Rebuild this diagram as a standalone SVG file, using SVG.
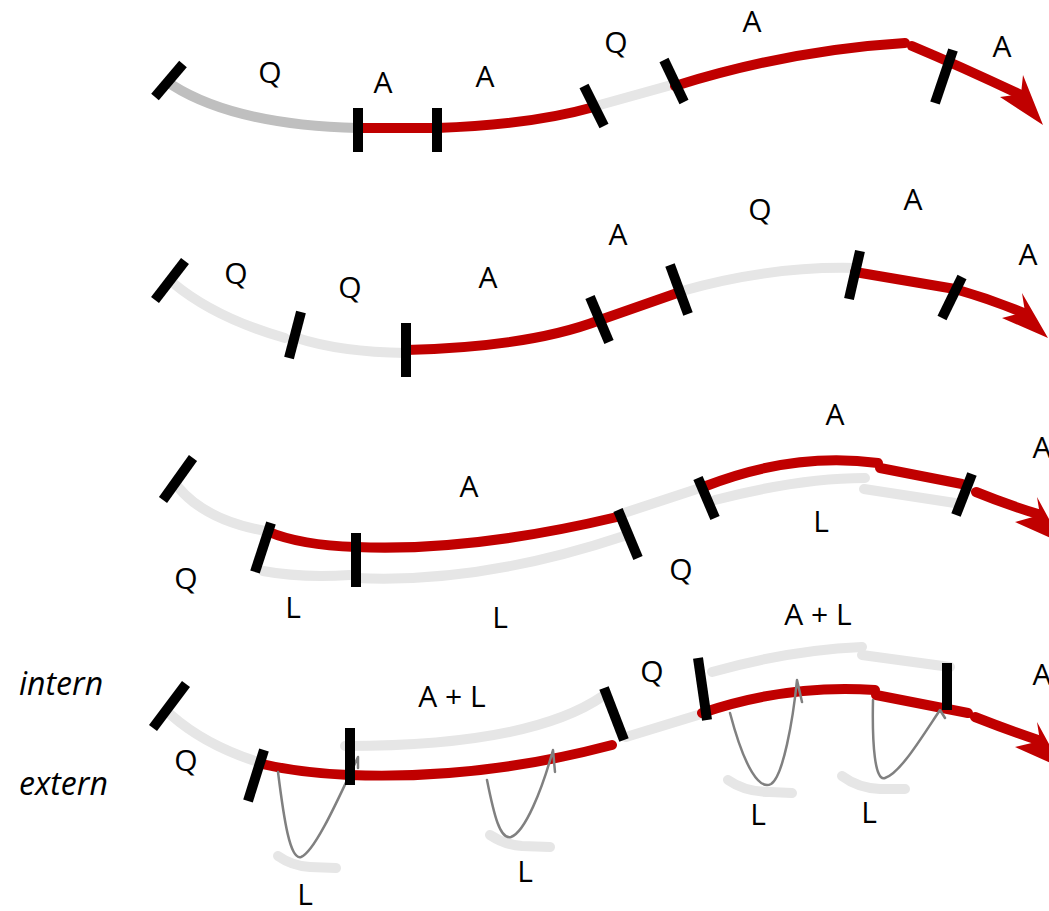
<svg xmlns="http://www.w3.org/2000/svg" width="1049" height="911" viewBox="0 0 1049 911">
<style>
.s{fill:none;stroke-width:10;stroke-linecap:round}
.q{stroke:#bfbfbf}
.lg{stroke:#e6e6e6}
.red{stroke:#c00000}
.tick{fill:none;stroke:#000;stroke-width:10;stroke-linecap:butt}
.loop{fill:none;stroke:#808080;stroke-width:2.5;stroke-linecap:round;stroke-linejoin:round}
.head{fill:#c00000}
.lbl{font-family:"Open Sans","DejaVu Sans",sans-serif;font-size:30px;fill:#000;text-anchor:middle}
.side{font-style:italic;text-anchor:start;font-size:32px}
</style>
<rect width="1049" height="911" fill="#fff"/>

<g id="row1">
  <path class="s q" d="M172,85 Q235,125 358,128"/>
  <path class="s red" d="M358,128 L437,128"/>
  <path class="s red" d="M437,128 Q530,125 594,107"/>
  <path class="s lg" d="M596,106 L675,84"/>
  <path class="s red" d="M675,86 Q790,50 905,43"/>
  <path class="s red" d="M912,46 Q962,67 1021,95"/>
  <polygon class="head" points="1043,125 1023,75 1021,94 1000,97"/>
  <line class="tick" x1="155" y1="97" x2="183" y2="64"/>
  <line class="tick" x1="358" y1="108" x2="358" y2="152"/>
  <line class="tick" x1="437" y1="108" x2="437" y2="152"/>
  <line class="tick" x1="584" y1="86" x2="604" y2="126"/>
  <line class="tick" x1="664" y1="60" x2="684" y2="102"/>
  <line class="tick" x1="935" y1="103" x2="953" y2="50"/>
  <text class="lbl" x="270" y="83">Q</text>
  <text class="lbl" x="383" y="93">A</text>
  <text class="lbl" x="485" y="87">A</text>
  <text class="lbl" x="616" y="53">Q</text>
  <text class="lbl" x="752" y="32">A</text>
  <text class="lbl" x="1002" y="57">A</text>
</g>

<g id="row2">
  <path class="s lg" d="M173,283 Q215,318 285,338"/>
  <path class="s lg" d="M297,338 Q340,352 406,353"/>
  <path class="s red" d="M406,350 Q530,347 600,320 L680,292"/>
  <path class="s lg" d="M682,291 Q770,266 855,268"/>
  <path class="s red" d="M855,272 L955,289"/>
  <path class="s red" d="M955,289 Q990,299 1024,313"/>
  <polygon class="head" points="1048,338 1022,293 1025,312 1002,318"/>
  <line class="tick" x1="155" y1="300" x2="185" y2="261"/>
  <line class="tick" x1="289" y1="358" x2="301" y2="312"/>
  <line class="tick" x1="406" y1="323" x2="406" y2="377"/>
  <line class="tick" x1="590" y1="297" x2="609" y2="342"/>
  <line class="tick" x1="670" y1="265" x2="688" y2="314"/>
  <line class="tick" x1="849" y1="299" x2="860" y2="251"/>
  <line class="tick" x1="942" y1="318" x2="962" y2="277"/>
  <text class="lbl" x="236" y="284">Q</text>
  <text class="lbl" x="350" y="298">Q</text>
  <text class="lbl" x="488" y="288">A</text>
  <text class="lbl" x="618" y="245">A</text>
  <text class="lbl" x="760" y="220">Q</text>
  <text class="lbl" x="913" y="210">A</text>
  <text class="lbl" x="1028" y="265">A</text>
</g>

<g id="row3">
  <path class="s lg" d="M178,487 Q205,520 265,531"/>
  <path class="s lg" d="M263,571 Q300,578 350,575"/>
  <path class="s lg" d="M356,578 Q480,584 624,536"/>
  <path class="s red" d="M269,532 Q300,545 356,547 Q470,552 617,517"/>
  <path class="s lg" d="M624,513 L700,488"/>
  <path class="s lg" d="M715,500 Q800,478 865,478"/>
  <path class="s lg" d="M864,489 L955,503"/>
  <path class="s red" d="M706,486 Q793,452 878,463"/>
  <path class="s red" d="M880,468 L962,484"/>
  <path class="s red" d="M976,492 Q1008,505 1038,514"/>
  <polygon class="head" points="1062,543 1037,497 1040,515 1015,522"/>
  <line class="tick" x1="163" y1="500" x2="193" y2="458"/>
  <line class="tick" x1="255" y1="572" x2="271" y2="523"/>
  <line class="tick" x1="356" y1="533" x2="356" y2="587"/>
  <line class="tick" x1="618" y1="510" x2="638" y2="558"/>
  <line class="tick" x1="698" y1="478" x2="715" y2="518"/>
  <line class="tick" x1="956" y1="515" x2="972" y2="474"/>
  <text class="lbl" x="469" y="497">A</text>
  <text class="lbl" x="186" y="589">Q</text>
  <text class="lbl" x="293" y="618">L</text>
  <text class="lbl" x="500" y="628">L</text>
  <text class="lbl" x="835" y="425">A</text>
  <text class="lbl" x="821" y="532">L</text>
  <text class="lbl" x="681" y="580">Q</text>
  <text class="lbl" x="1042" y="458">A</text>
</g>

<g id="row4">
  <text class="lbl side" x="19" y="695">intern</text>
  <text class="lbl side" x="19" y="795">extern</text>
  <path class="s lg" d="M171,715 Q205,745 258,762"/>
  <path class="s lg" d="M345,746 Q530,746 603,696"/>
  <path class="s lg" d="M626,737 L698,715"/>
  <path class="s lg" d="M712,672 Q790,650 862,647"/>
  <path class="s lg" d="M862,655 L950,667"/>
  <path class="s red" d="M262,764 Q300,773 349,775 Q480,780 612,745"/>
  <path class="s red" d="M702,713 Q787,684 875,690"/>
  <path class="s red" d="M876,695 L968,713"/>
  <path class="s red" d="M975,717 Q1008,730 1038,740"/>
  <polygon class="head" points="1062,768 1037,722 1040,741 1015,747"/>
  <path class="s lg" d="M278,856 Q292,866 310,867 L336,868"/>
  <path class="s lg" d="M490,835 Q505,845 522,846 L550,847"/>
  <path class="s lg" d="M728,780 Q745,792 770,792 L792,793"/>
  <path class="s lg" d="M842,776 Q858,788 880,789 L905,789"/>
  <path class="loop" d="M278,772 C284,820 290,860 301,857 C315,852 340,795 358,757 L358,768"/>
  <path class="loop" d="M487,780 C494,815 500,840 511,837 C525,832 542,790 553,750 L555,772"/>
  <path class="loop" d="M730,713 C745,770 760,790 771,784 C783,777 793,720 797,680 L802,702"/>
  <path class="loop" d="M873,700 C872,745 875,782 885,778 C900,773 920,740 940,710 L945,718"/>
  <line class="tick" x1="153" y1="728" x2="186" y2="684"/>
  <line class="tick" x1="248" y1="801" x2="264" y2="750"/>
  <line class="tick" x1="350" y1="728" x2="350" y2="785"/>
  <line class="tick" x1="604" y1="688" x2="624" y2="740"/>
  <line class="tick" x1="698" y1="658" x2="707" y2="720"/>
  <line class="tick" x1="947" y1="663" x2="947" y2="710"/>
  <text class="lbl" x="186" y="771">Q</text>
  <text class="lbl" x="452" y="707">A + L</text>
  <text class="lbl" x="652" y="682">Q</text>
  <text class="lbl" x="818" y="625">A + L</text>
  <text class="lbl" x="1042" y="685">A</text>
  <text class="lbl" x="305" y="905">L</text>
  <text class="lbl" x="525" y="882">L</text>
  <text class="lbl" x="758" y="825">L</text>
  <text class="lbl" x="869" y="823">L</text>
</g>
</svg>
